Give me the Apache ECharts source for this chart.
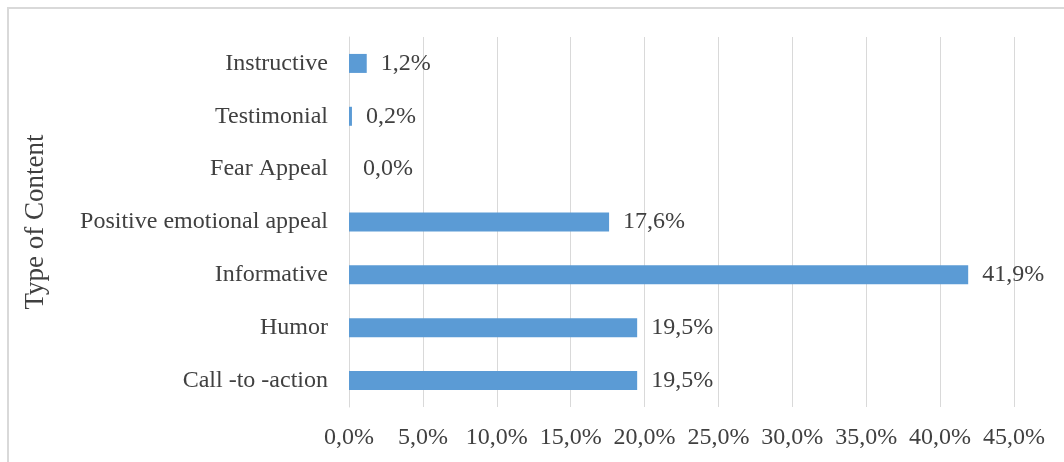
<!DOCTYPE html>
<html>
<head>
<meta charset="utf-8">
<script src="https://cdn.jsdelivr.net/npm/echarts@6/dist/echarts.min.js"></script>
<style>
  html, body { margin: 0; padding: 0; background: #ffffff; }
  #chart { width: 1064px; height: 462px; }
</style>
</head>
<body>
<div id="chart"></div>
<script>
// Content types, listed bottom to top as they appear on the category axis
const categories = [
  'Call -to -action',
  'Humor',
  'Informative',
  'Positive emotional appeal',
  'Fear Appeal',
  'Testimonial',
  'Instructive'
];

// Share of posts per content type, in percent
const shares = [19.5, 19.5, 41.9, 17.6, 0.0, 0.2, 1.2];

// Value axis range and step, in percent
const axisMin = 0;
const axisMax = 45;
const axisStep = 5;

const fmt = v => v.toFixed(1).replace('.', ',') + '%';

const serif = '"Liberation Serif", "DejaVu Serif", serif';
const textColor = '#404040';

const chart = echarts.init(document.getElementById('chart'), null, { renderer: 'canvas' });

chart.setOption({
  backgroundColor: '#ffffff',
  animation: false,
  graphic: [{
    type: 'rect',
    shape: { x: 8, y: 8, width: 1200, height: 600 },
    style: { fill: 'none', stroke: '#d9d9d9', lineWidth: 2 },
    silent: true
  }],
  grid: { left: 349, right: 50, top: 37, bottom: 55, containLabel: false },
  xAxis: {
    type: 'value',
    min: axisMin,
    max: axisMax,
    interval: axisStep,
    axisLine: { show: false },
    axisTick: { show: false },
    splitLine: { show: true, lineStyle: { color: '#d9d9d9', width: 1 } },
    axisLabel: {
      formatter: v => fmt(v),
      color: textColor,
      fontFamily: serif,
      fontSize: 24,
      margin: 19
    }
  },
  yAxis: {
    type: 'category',
    data: categories,
    name: 'Type of Content',
    nameLocation: 'middle',
    nameGap: 300,
    nameRotate: 90,
    nameTextStyle: { color: textColor, fontFamily: serif, fontSize: 27 },
    axisLine: { show: true, lineStyle: { color: '#d9d9d9', width: 1 } },
    axisTick: { show: false },
    axisLabel: {
      color: textColor,
      fontFamily: serif,
      fontSize: 24,
      margin: 21
    }
  },
  series: [{
    type: 'bar',
    data: shares,
    barWidth: 19,
    itemStyle: { color: '#5b9bd5' },
    label: {
      show: true,
      position: 'right',
      distance: 14,
      formatter: p => fmt(p.value),
      color: textColor,
      fontFamily: serif,
      fontSize: 24
    }
  }]
});
</script>
</body>
</html>
